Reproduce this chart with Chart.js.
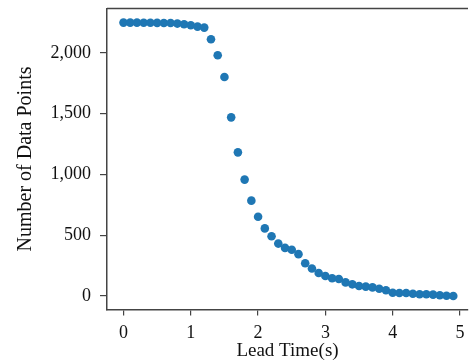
<!DOCTYPE html>
<html>
<head>
<meta charset="utf-8">
<script src="https://cdn.jsdelivr.net/npm/chart.js@4"></script>
<style>
 body{margin:0;background:#fff;}
 canvas{display:block;}
</style>
</head>
<body>
<canvas id="chart" width="469" height="362"></canvas>
<script>
/* ---------- DATA ---------- */
let leadTimes=[0,0.1,0.2,0.3,0.4,0.5,0.6,0.7,0.8,0.9,
 1,1.1,1.2,1.3,1.4,1.5,1.6,1.7,1.8,1.9,
 2,2.1,2.2,2.3,2.4,2.5,2.6,2.7,2.8,2.9,
 3,3.1,3.2,3.3,3.4,3.5,3.6,3.7,3.8,3.9,
 4,4.1,4.2,4.3,4.4,4.5,4.6,4.7,4.8,4.9];
let dataPoints=[2248,2248,2248,2247,2247,2246,2245,2245,2240,2234,
 2226,2215,2207,2111,1979,1801,1469,1181,957,784,
 652,556,491,431,396,380,344,269,226,189,
 164,146,140,112,96,82,77,71,60,47,
 27,25,25,19,14,14,11,6,2,0];
let xTicks=[0,1,2,3,4,5];
let yTicks=[0,500,1000,1500,2000];

/* ---------- STYLE ---------- */
let fam="'Liberation Serif', 'DejaVu Serif', serif";
let tickFont={family:fam,size:18};
let ink="#111", spine="#444";

// no extra label padding, keep the plot box fixed
function noPad(s){ s.paddingTop=0; s.paddingBottom=0; s.paddingLeft=0; s.paddingRight=0; }

// top spine (matplotlib box)
let topSpine={
 id:"topSpine",
 afterDraw(c){
  let a=c.chartArea, g=c.ctx;
  g.save(); g.strokeStyle=spine; g.lineWidth=1.5;
  g.beginPath(); g.moveTo(a.left,a.top); g.lineTo(a.right,a.top); g.stroke();
  g.restore();
 }
};

new Chart(document.getElementById("chart"),{
 type:"scatter",
 data:{datasets:[{
  data:leadTimes.map((t,i)=>({x:t,y:dataPoints[i]})),
  backgroundColor:"#1f77b4",
  borderWidth:0,
  pointRadius:4.3,
  pointHoverRadius:4.3
 }]},
 options:{
  responsive:false,
  devicePixelRatio:1,
  animation:false,
  layout:{autoPadding:false,padding:{top:8.5,right:1,left:0,bottom:0}},
  plugins:{legend:{display:false},tooltip:{enabled:false}},
  scales:{
   x:{
    type:"linear",min:-0.245,max:5.119,
    afterBuildTicks:s=>{s.ticks=xTicks.map(v=>({value:v}));},
    afterFit:s=>{s.height=52.5; noPad(s);},
    grid:{drawOnChartArea:false,drawTicks:true,tickLength:6,color:spine,lineWidth:1.2},
    border:{display:true,color:spine,width:1.5},
    ticks:{font:tickFont,color:ink,padding:7,maxRotation:0,autoSkip:false},
    title:{display:true,text:"Lead Time(s)",font:{family:fam,size:19},color:ink,padding:{top:0,bottom:0}}
   },
   y:{
    type:"linear",min:-111,max:2364,
    afterBuildTicks:s=>{s.ticks=yTicks.map(v=>({value:v}));},
    afterFit:s=>{s.width=107; noPad(s);},
    grid:{drawOnChartArea:false,drawTicks:true,tickLength:7,color:spine,lineWidth:1.2},
    border:{display:true,color:spine,width:1.5},
    ticks:{font:tickFont,color:ink,padding:9,autoSkip:false,callback:v=>v.toLocaleString("en-US")},
    title:{display:true,text:"Number of Data Points",font:{family:fam,size:20},color:ink,padding:{top:14,bottom:0}}
   }
  }
 },
 plugins:[topSpine]
});
</script>
</body>
</html>
